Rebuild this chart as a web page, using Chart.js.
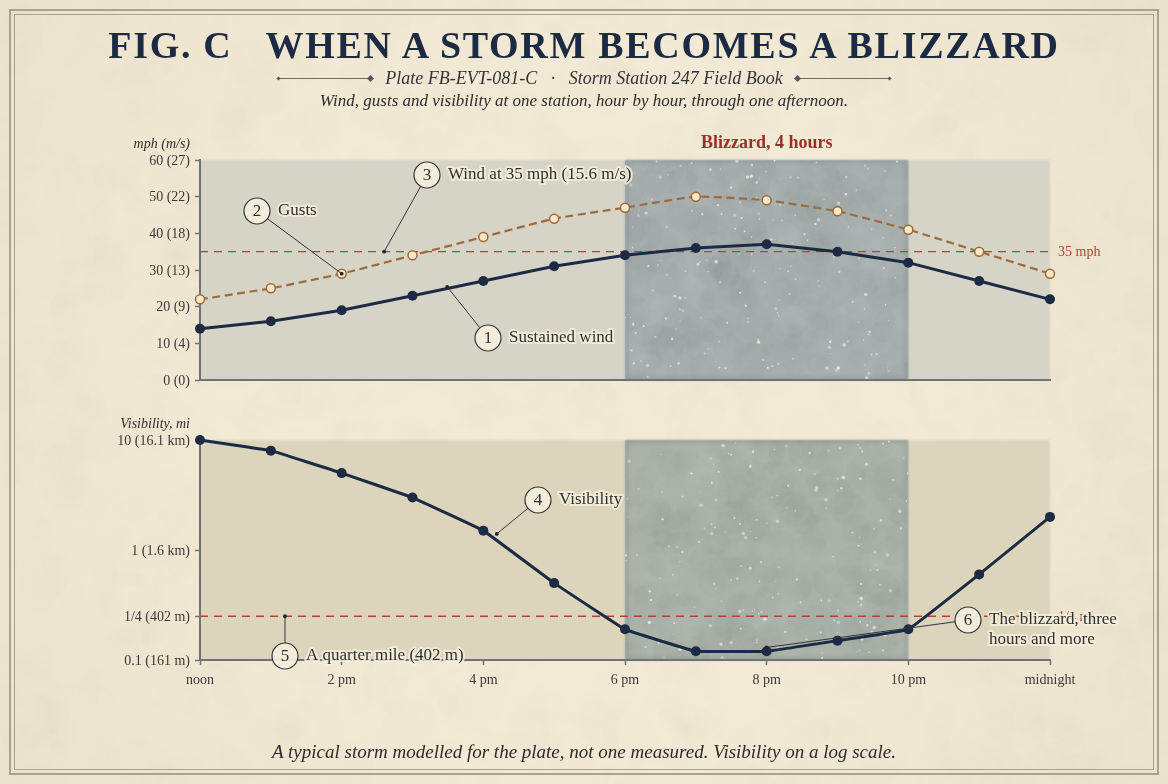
<!DOCTYPE html>
<html>
<head>
<meta charset="utf-8">
<title>When a storm becomes a blizzard</title>
<script src="https://cdn.jsdelivr.net/npm/chart.js@4"></script>
<style>
  html, body { margin: 0; padding: 0; }
  body { width: 1168px; height: 784px; position: relative; overflow: hidden; background: #f2e9d3; font-family: 'Liberation Serif', serif; }
  canvas { position: absolute; left: 0; }
  #paper { top: 0; }
  #windChart { top: 0; }
  #visChart { top: 400px; }
  .frame { position: absolute; box-sizing: border-box; pointer-events: none; }
  #frame1 { left: 9px; top: 9px; width: 1150px; height: 766px; border: 2px solid #aaa28e; }
  #frame2 { left: 14px; top: 14px; width: 1140px; height: 756px; border: 1px solid #aaa28e; }
  .txt { position: absolute; left: 0; width: 1168px; text-align: center; white-space: pre; }
  #title { top: 23px; font: bold 38px 'Liberation Serif', serif; letter-spacing: 1.7px; color: #1c2a44; }
  #plate { top: 67.5px; font: italic 18px 'Liberation Serif', serif; color: #33343a; }
  #sub { top: 90.5px; font: italic 17px 'Liberation Serif', serif; color: #2c2c2c; }
  #foot { top: 741px; font: italic 19px 'Liberation Serif', serif; color: #2c2c2c; }
  .rule { position: absolute; top: 78px; height: 1px; background: #6a6c70; }
  .dia { position: absolute; background: #55585e; transform: rotate(45deg); }
</style>
</head>
<body>
<canvas id="paper" width="1168" height="784"></canvas>
<div class="frame" id="frame1"></div>
<div class="frame" id="frame2"></div>
<div class="txt" id="title">FIG. C   WHEN A STORM BECOMES A BLIZZARD</div>
<div class="txt" id="plate">Plate FB-EVT-081-C   ·   Storm Station 247 Field Book</div>
<div class="txt" id="sub">Wind, gusts and visibility at one station, hour by hour, through one afternoon.</div>
<div class="txt" id="foot">A typical storm modelled for the plate, not one measured. Visibility on a log scale.</div>
<div class="rule" style="left:279px;width:92px"></div>
<div class="rule" style="left:797px;width:92px"></div>
<div class="dia" style="left:368px;top:76px;width:5px;height:5px"></div>
<div class="dia" style="left:277px;top:77px;width:3px;height:3px"></div>
<div class="dia" style="left:795px;top:76px;width:5px;height:5px"></div>
<div class="dia" style="left:888px;top:77px;width:3px;height:3px"></div>
<canvas id="windChart" width="1168" height="400"></canvas>
<canvas id="visChart" width="1168" height="384"></canvas>
<script>
const hours = [0, 1, 2, 3, 4, 5, 6, 7, 8, 9, 10, 11, 12]
const windMph = [14, 16, 19, 23, 27, 31, 34, 36, 37, 35, 32, 27, 22]
const gustMph = [22, 25, 29, 34, 39, 44, 47, 50, 49, 46, 41, 35, 29]
const visMiles = [10, 8, 5, 3, 1.5, 0.5, 0.19, 0.12, 0.12, 0.15, 0.19, 0.6, 2]

const xTickLabels = ['noon', '2 pm', '4 pm', '6 pm', '8 pm', '10 pm', 'midnight']
const windTickValues = [0, 10, 20, 30, 40, 50, 60]
const windTickLabels = ['0 (0)', '10 (4)', '20 (9)', '30 (13)', '40 (18)', '50 (22)', '60 (27)']
const visTickValues = [0.1, 0.25, 1, 10]
const visTickLabels = ['0.1 (161 m)', '1/4 (402 m)', '1 (1.6 km)', '10 (16.1 km)']

const windLimit = 35
const visLimit = 0.25
const blizzardFrom = 6
const blizzardTo = 10

const NAVY = '#1c2a44'
const GUST = '#a0693a'
const RED = '#ad4439'
const INK = '#2f2f2f'
const AXIS = '#6f7276'
const serif = "'Liberation Serif', serif"

// small seeded generator, only used for paper grain and snow specks
function seeded(s) {
    return () => {
        s = (s * 1664525 + 1013904223) >>> 0
        return s / 4294967296
    }
}

function drawPaper() {
    const ctx = document.getElementById('paper').getContext('2d')
    const r = seeded(81)
    ctx.fillStyle = '#f3ead5'
    ctx.fillRect(0, 0, 1168, 784)
    for (let i = 0; i < 2500; i++) {
        const x = r() * 1168, y = r() * 784, w = 6 + r() * 30
        ctx.fillStyle = r() > 0.5 ? 'rgba(255,252,238,0.01)' : 'rgba(150,130,95,0.007)'
        ctx.beginPath()
        ctx.ellipse(x, y, w, w * (0.3 + r() * 0.5), r() * 3, 0, 7)
        ctx.fill()
    }
    const g = ctx.createRadialGradient(584, 392, 340, 584, 392, 760)
    g.addColorStop(0, 'rgba(140,125,95,0)')
    g.addColorStop(1, 'rgba(140,125,95,0.08)')
    ctx.fillStyle = g
    ctx.fillRect(0, 0, 1168, 784)
}

function drawBand(ctx, area, x, opts) {
    const left = x.getPixelForValue(blizzardFrom)
    const right = x.getPixelForValue(blizzardTo)
    const h = area.bottom - area.top
    ctx.save()
    ctx.filter = 'blur(1.2px)'
    ctx.fillStyle = opts.plot
    ctx.fillRect(area.left, area.top, area.right - area.left, h)
    ctx.fillStyle = opts.band
    ctx.fillRect(left, area.top, right - left, h)
    ctx.filter = 'none'

    ctx.beginPath()
    ctx.rect(left, area.top, right - left, h)
    ctx.clip()
    const r = seeded(opts.seed)
    for (let i = 0; i < 500; i++) {
        ctx.fillStyle = r() > 0.5 ? 'rgba(225,230,225,0.016)' : 'rgba(85,100,115,0.018)'
        ctx.beginPath()
        ctx.arc(left + r() * (right - left), area.top + r() * h, 4 + r() * 16, 0, 7)
        ctx.fill()
    }
    ctx.strokeStyle = 'rgba(80,95,110,0.22)'
    ctx.lineWidth = 5
    ctx.filter = 'blur(2px)'
    ctx.strokeRect(left, area.top, right - left, h)
    ctx.filter = 'none'
    for (let i = 0; i < 170; i++) {
        const big = r()
        ctx.fillStyle = 'rgba(240,240,232,' + (0.35 + r() * 0.5) + ')'
        ctx.beginPath()
        ctx.arc(left + r() * (right - left), area.top + r() * h, big > 0.85 ? 1.7 : 0.6 + big * 0.8, 0, 7)
        ctx.fill()
    }
    ctx.restore()
}

function halo(ctx, text, x, y) {
    ctx.lineJoin = 'round'
    ctx.lineWidth = 4
    ctx.strokeStyle = 'rgba(245,238,218,0.85)'
    ctx.strokeText(text, x, y)
    ctx.fillStyle = INK
    ctx.fillText(text, x, y)
}

// one callout: number in a circle, a leader down to the data, a label at its side
function callout(ctx, c) {
    const dx = c.ax - c.cx, dy = c.ay - c.cy
    const d = Math.hypot(dx, dy)
    ctx.strokeStyle = '#33363c'
    ctx.lineWidth = 1
    ctx.beginPath()
    ctx.moveTo(c.cx + dx / d * 13, c.cy + dy / d * 13)
    ctx.lineTo(c.ax, c.ay)
    ctx.stroke()
    ctx.fillStyle = '#22252c'
    ctx.beginPath()
    ctx.arc(c.ax, c.ay, 1.9, 0, 7)
    ctx.fill()

    ctx.textBaseline = 'middle'
    ctx.textAlign = 'left'
    ctx.font = '17px ' + serif
    c.lines.forEach((t, i) => halo(ctx, t, c.cx + 21, c.cy + i * 20))

    ctx.beginPath()
    ctx.arc(c.cx, c.cy, 13, 0, 7)
    ctx.fillStyle = 'rgba(245,238,220,0.92)'
    ctx.fill()
    ctx.strokeStyle = '#33363c'
    ctx.lineWidth = 1.2
    ctx.stroke()
    ctx.fillStyle = INK
    ctx.textAlign = 'center'
    ctx.fillText(c.n, c.cx, c.cy + 1)
}

function sideText(ctx, text, x, y, font, color, align) {
    ctx.font = font
    ctx.fillStyle = color
    ctx.textAlign = align
    ctx.textBaseline = 'middle'
    ctx.fillText(text, x, y)
}

const windDecor = {
    id: 'windDecor',
    beforeDraw(chart) {
        drawBand(chart.ctx, chart.chartArea, chart.scales.x, { plot: '#d5d4c6', band: '#a6aeae', seed: 7 })
    },
    afterDraw(chart) {
        const ctx = chart.ctx, x = chart.scales.x, y = chart.scales.y
        ctx.save()
        sideText(ctx, 'mph (m/s)', 190, 144, 'italic 14px ' + serif, INK, 'right')
        sideText(ctx, 'Blizzard, 4 hours', x.getPixelForValue(8), 143, 'bold 18px ' + serif, '#9a2f2a', 'center')
        sideText(ctx, '35 mph', 1058, y.getPixelForValue(windLimit) + 1, '14px ' + serif, RED, 'left')
        callout(ctx, { n: '1', cx: 488, cy: 338, ax: x.getPixelForValue(3.49), ay: y.getPixelForValue(25.4), lines: ['Sustained wind'] })
        callout(ctx, { n: '2', cx: 257, cy: 211, ax: x.getPixelForValue(2), ay: y.getPixelForValue(29), lines: ['Gusts'] })
        callout(ctx, { n: '3', cx: 427, cy: 175, ax: x.getPixelForValue(2.6), ay: y.getPixelForValue(windLimit), lines: ['Wind at 35 mph (15.6 m/s)'] })
        ctx.restore()
    },
}

const visDecor = {
    id: 'visDecor',
    beforeDraw(chart) {
        drawBand(chart.ctx, chart.chartArea, chart.scales.x, { plot: '#dcd5bc', band: '#aab1a9', seed: 19 })
    },
    afterDraw(chart) {
        const ctx = chart.ctx, x = chart.scales.x, y = chart.scales.y
        ctx.save()
        sideText(ctx, 'Visibility, mi', 190, 24, 'italic 14px ' + serif, INK, 'right')
        sideText(ctx, '1/4 mi', 1058, y.getPixelForValue(visLimit) + 1, '14px ' + serif, RED, 'left')
        callout(ctx, { n: '4', cx: 538, cy: 100, ax: x.getPixelForValue(4.19), ay: y.getPixelForValue(1.4), lines: ['Visibility'] })
        callout(ctx, { n: '5', cx: 285, cy: 256, ax: x.getPixelForValue(1.2), ay: y.getPixelForValue(visLimit), lines: ['A quarter mile (402 m)'] })
        callout(ctx, { n: '6', cx: 968, cy: 220, ax: x.getPixelForValue(8), ay: y.getPixelForValue(0.13), lines: ['The blizzard, three', 'hours and more'] })
        ctx.restore()
    },
}

function series(values, opts) {
    return Object.assign({ data: values.map((v, i) => ({ x: hours[i], y: v })), clip: false }, opts)
}

function limitLine(value) {
    return {
        data: [{ x: 0, y: value }, { x: 12, y: value }],
        borderColor: RED,
        borderWidth: 1.3,
        borderDash: [8, 6],
        pointRadius: 0,
        clip: false,
    }
}

const navyLine = {
    borderColor: NAVY,
    borderWidth: 3,
    pointRadius: 5,
    pointBackgroundColor: NAVY,
    pointBorderColor: NAVY,
    pointBorderWidth: 0,
}

const xAxis = (showTicks, height) => ({
    type: 'linear',
    min: 0,
    max: 12,
    border: { color: AXIS, width: 2 },
    grid: { drawOnChartArea: false, drawTicks: showTicks, tickLength: 5, color: AXIS, tickWidth: 1.5 },
    ticks: {
        display: showTicks,
        stepSize: 2,
        autoSkip: false,
        maxRotation: 0,
        padding: 7,
        color: '#3a3a3a',
        font: { family: serif, size: 14 },
        callback: (v) => xTickLabels[v / 2],
    },
    afterFit: (s) => { s.height = height },
})

const yTicks = (labelFor) => ({
    autoSkip: false,
    padding: 5,
    labelOffset: 1,
    color: '#3a3a3a',
    font: { family: serif, size: 14 },
    callback: labelFor,
})

const shared = {
    responsive: false,
    animation: false,
    events: [],
    plugins: { legend: { display: false }, tooltip: { enabled: false } },
}

drawPaper()

new Chart(document.getElementById('windChart'), {
    type: 'line',
    plugins: [windDecor],
    data: {
        datasets: [
            series(windMph, navyLine),
            series(gustMph, {
                borderColor: GUST,
                borderWidth: 2.2,
                borderDash: [8, 4.5],
                tension: 0.15,
                pointRadius: 4.5,
                pointBackgroundColor: '#fbe8c8',
                pointBorderColor: GUST,
                pointBorderWidth: 1.5,
            }),
            limitLine(windLimit),
        ],
    },
    options: Object.assign({}, shared, {
        layout: { autoPadding: false, padding: { top: 160, right: 118, bottom: 0, left: 0 } },
        scales: {
            x: xAxis(false, 20),
            y: {
                min: 0,
                max: 60,
                border: { color: AXIS, width: 2 },
                grid: { drawOnChartArea: false, tickLength: 5, color: AXIS, tickWidth: 1.5 },
                ticks: Object.assign(yTicks((v) => windTickLabels[windTickValues.indexOf(v)]), { stepSize: 10 }),
                afterFit: (s) => { s.width = 200 },
            },
        },
    }),
})

new Chart(document.getElementById('visChart'), {
    type: 'line',
    plugins: [visDecor],
    data: {
        datasets: [
            series(visMiles, Object.assign({ tension: 0.05 }, navyLine)),
            limitLine(visLimit),
        ],
    },
    options: Object.assign({}, shared, {
        layout: { autoPadding: false, padding: { top: 40, right: 118, bottom: 0, left: 0 } },
        scales: {
            x: xAxis(true, 124),
            y: {
                type: 'logarithmic',
                min: 0.1,
                max: 10,
                border: { color: AXIS, width: 2 },
                grid: { drawOnChartArea: false, tickLength: 5, color: AXIS, tickWidth: 1.5 },
                ticks: yTicks((v) => visTickLabels[visTickValues.indexOf(v)]),
                afterBuildTicks: (s) => { s.ticks = visTickValues.map((v) => ({ value: v })) },
                afterFit: (s) => { s.width = 200 },
            },
        },
    }),
})
</script>
</body>
</html>
